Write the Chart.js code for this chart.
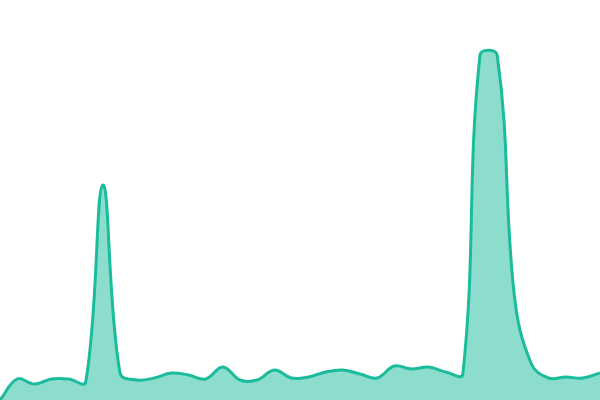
<!DOCTYPE html>
<html>
<head>
<meta charset="utf-8">
<script src="https://cdn.jsdelivr.net/npm/chart.js@4/dist/chart.umd.min.js"></script>
<style>
  html, body { margin: 0; padding: 0; background: #ffffff; }
  #wrap { width: 600px; height: 400px; }
</style>
</head>
<body>
<div id="wrap"><canvas id="c" width="600" height="400"></canvas></div>
<script>
const categories = ['1','2','3','4','5','6','7','8','9','10','11','12','13','14','15','16','17','18',
                    '19','20','21','22','23','24','25','26','27','28','29','30','31','32','33','34','35','36'];
const seriesValues = [0, 21, 16, 21, 21, 18, 215, 27, 20, 22, 27, 25, 21, 33, 20, 20, 30, 22,
                      23, 28, 30, 26, 22, 34, 31, 33, 28, 26, 345, 345, 105, 36, 22, 23, 22, 27];
const yMin = 0;
const yMax = 400;

new Chart(document.getElementById('c'), {
  type: 'line',
  data: {
    labels: categories,
    datasets: [{
      data: seriesValues,
      borderColor: '#1abc9c',
      backgroundColor: 'rgba(26,188,156,0.5)',
      borderWidth: 3,
      fill: 'origin',
      tension: 0.4,
      pointRadius: 0,
      pointHoverRadius: 0
    }]
  },
  options: {
    responsive: false,
    animation: false,
    devicePixelRatio: 1,
    layout: { padding: 0 },
    plugins: { legend: { display: false }, tooltip: { enabled: false } },
    scales: {
      x: { display: false, offset: false },
      y: { display: false, min: yMin, max: yMax }
    }
  }
});
</script>
</body>
</html>
